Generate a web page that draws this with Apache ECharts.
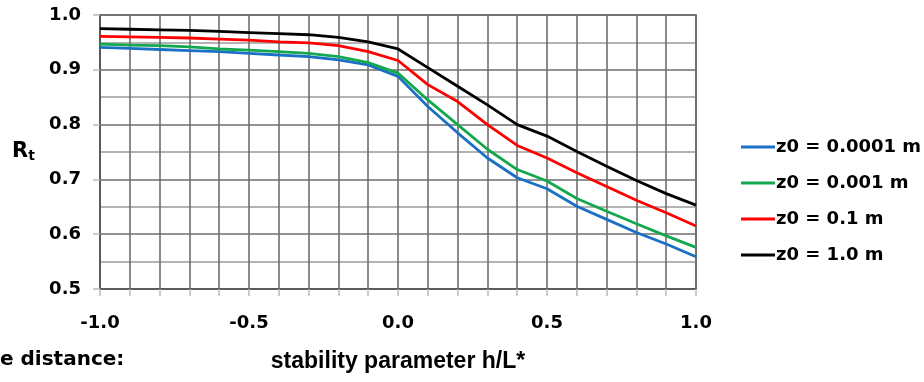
<!DOCTYPE html>
<html>
<head>
<meta charset="utf-8">
<script src="https://cdn.jsdelivr.net/npm/echarts@6/dist/echarts.min.js"></script>
<style>
  html, body { margin: 0; padding: 0; background: #fff; }
  #chart { width: 924px; height: 382px; }
</style>
</head>
<body>
<div id="chart"></div>
<script>
// stability parameter h/L*
var xValues = [-1.0, -0.9, -0.8, -0.7, -0.6, -0.5, -0.4, -0.3, -0.2, -0.1, 0.0,
  0.1, 0.2, 0.3, 0.4, 0.5, 0.6, 0.7, 0.8, 0.9, 1.0]

// Rt for each roughness length
var rtZ00001 = [0.941, 0.939, 0.937, 0.935, 0.933, 0.930, 0.927, 0.924, 0.918, 0.909, 0.888,
  0.833, 0.785, 0.739, 0.703, 0.683, 0.651, 0.627, 0.603, 0.582, 0.559]
var rtZ0001 = [0.947, 0.945, 0.944, 0.942, 0.938, 0.936, 0.933, 0.930, 0.924, 0.913, 0.894,
  0.845, 0.800, 0.755, 0.718, 0.697, 0.665, 0.642, 0.619, 0.597, 0.576]
var rtZ01 = [0.961, 0.960, 0.959, 0.958, 0.956, 0.954, 0.951, 0.949, 0.944, 0.933, 0.917,
  0.873, 0.842, 0.800, 0.762, 0.739, 0.712, 0.687, 0.662, 0.639, 0.615]
var rtZ10 = [0.975, 0.974, 0.973, 0.972, 0.970, 0.968, 0.966, 0.964, 0.959, 0.951, 0.938,
  0.904, 0.870, 0.836, 0.800, 0.779, 0.751, 0.724, 0.698, 0.674, 0.653]

var seriesNames = ['z0 = 0.0001 m', 'z0 = 0.001 m', 'z0 = 0.1 m', 'z0 = 1.0 m']
var seriesColors = ['#1a70c4', '#14a84e', '#ff0000', '#000000']
var seriesData = [rtZ00001, rtZ0001, rtZ01, rtZ10]

function pairs(ys) {
  var arr = []
  for (var i = 0; i < xValues.length; i++) {
    arr.push([xValues[i], ys[i]])
  }
  return arr
}

var myChart = echarts.init(document.getElementById('chart'))

var series = []
seriesNames.forEach(function(name, i) {
  series.push({
    name: name,
    type: 'line',
    data: pairs(seriesData[i]),
    symbol: 'none',
    lineStyle: { color: seriesColors[i], width: 2.8 },
    itemStyle: { color: seriesColors[i] }
  })
})

var labelFont = {
  color: '#000',
  fontFamily: 'DejaVu Sans',
  fontWeight: 'bold',
  fontSize: 18
}

var options = {
  animation: false,
  grid: {
    left: 100,
    right: 228,
    top: 15,
    bottom: 93
  },
  legend: {
    orient: 'vertical',
    left: 736,
    top: 132,
    icon: 'rect',
    itemWidth: 34,
    itemHeight: 3,
    itemGap: 16,
    textStyle: {
      color: '#000',
      fontFamily: 'DejaVu Sans',
      fontWeight: 'bold',
      fontSize: 18,
      lineHeight: 20,
      padding: [0, 0, 0, -4]
    },
    data: seriesNames
  },
  xAxis: {
    type: 'value',
    min: -1,
    max: 1,
    interval: 0.1,
    name: 'stability parameter h/L*',
    nameLocation: 'middle',
    nameGap: 61,
    nameTextStyle: {
      color: '#000',
      fontFamily: 'Liberation Sans',
      fontWeight: 'bold',
      fontSize: 23
    },
    axisLine: { show: true, onZero: false, lineStyle: { color: '#555', width: 1.5 } },
    axisTick: { show: true, length: 7, lineStyle: { color: '#bbb', width: 1.5 } },
    axisLabel: Object.assign({
      margin: 25,
      formatter: function(v) {
        if (Math.abs(v * 2 - Math.round(v * 2)) > 1e-6) return ''
        if (Math.abs(v) < 1e-9) return '0.0'
        return v.toFixed(1)
      }
    }, labelFont),
    splitLine: { show: true, lineStyle: { color: '#6e6e6e', width: 1.6 } }
  },
  yAxis: {
    type: 'value',
    min: 0.5,
    max: 1.0,
    interval: 0.1,
    axisLine: { show: true, onZero: false, lineStyle: { color: '#555', width: 1.5 } },
    axisTick: { show: true, length: 7, lineStyle: { color: '#bbb', width: 1.5 } },
    axisLabel: Object.assign({
      margin: 19,
      formatter: function(v) { return v.toFixed(1) }
    }, labelFont),
    splitLine: { show: true, lineStyle: { color: '#6e6e6e', width: 1.6 } },
    minorTick: { show: false, splitNumber: 2 },
    minorSplitLine: { show: true, lineStyle: { color: '#9a9a9a', width: 1.6 } }
  },
  graphic: [
    {
      type: 'text',
      left: 12,
      top: 141,
      style: {
        text: '{r|R}{t|t}',
        rich: {
          r: { fontFamily: 'DejaVu Sans', fontWeight: 'bold', fontSize: 21, fill: '#000' },
          t: { fontFamily: 'DejaVu Sans', fontWeight: 'bold', fontSize: 14, fill: '#000', verticalAlign: 'bottom', padding: [10, 0, 0, 0] }
        }
      }
    },
    {
      type: 'text',
      left: 0,
      top: 350,
      style: {
        text: 'e distance:',
        fontFamily: 'DejaVu Sans',
        fontWeight: 'bold',
        fontSize: 20,
        fill: '#000'
      }
    },
    {
      // right and top frame
      type: 'rect',
      shape: { x: 100, y: 15, width: 596, height: 274 },
      style: { fill: 'none', stroke: '#555', lineWidth: 1.6 },
      silent: true,
      z: -1
    }
  ],
  series: series
}

myChart.setOption(options)
window.addEventListener('resize', function() {
  myChart.resize()
})
</script>
</body>
</html>
